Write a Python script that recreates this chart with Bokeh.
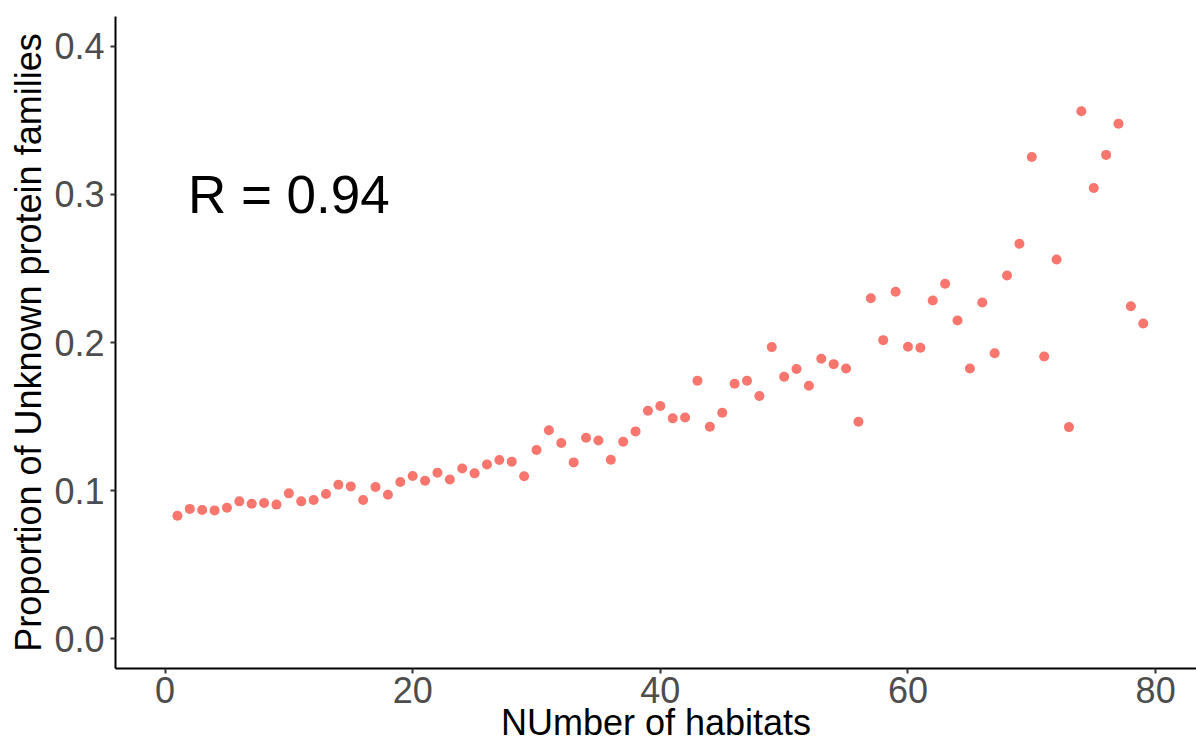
from bokeh.plotting import figure
from bokeh.models import Range1d, FixedTicker, NumeralTickFormatter, ColumnDataSource
from bokeh.core.properties import value
from bokeh.embed import file_html
from bokeh.resources import INLINE

# Data
habitats = list(range(1, 80))
proportion_unknown = [
    0.0831, 0.0877, 0.0870, 0.0867, 0.0885, 0.0928, 0.0912, 0.0917, 0.0906, 0.0982,
    0.0928, 0.0937, 0.0978, 0.1040, 0.1029, 0.0937, 0.1025, 0.0973, 0.1059, 0.1099,
    0.1067, 0.1121, 0.1076, 0.1150, 0.1117, 0.1177, 0.1207, 0.1196, 0.1097, 0.1274,
    0.1408, 0.1322, 0.1191, 0.1357, 0.1339, 0.1209, 0.1330, 0.1400, 0.1539, 0.1571,
    0.1488, 0.1494, 0.1742, 0.1432, 0.1526, 0.1722, 0.1742, 0.1639, 0.1969, 0.1769,
    0.1821, 0.1708, 0.1890, 0.1854, 0.1825, 0.1465, 0.2299, 0.2016, 0.2342, 0.1971,
    0.1964, 0.2283, 0.2396, 0.2148, 0.1825, 0.2270, 0.1928, 0.2452, 0.2666, 0.3252,
    0.1906, 0.2560, 0.1429, 0.3560, 0.3043, 0.3266, 0.3477, 0.2245, 0.2128,
]
x_ticks = [0, 20, 40, 60, 80]
y_ticks = [0.0, 0.1, 0.2, 0.3, 0.4]
r_label = ["R = 0.94"]
r_label_x = [10]
r_label_y = [0.3]

FONT = "Liberation Sans"

p = figure(
    width=1196, height=747,
    x_range=Range1d(-4.0, 83.3), y_range=Range1d(-0.02, 0.42),
    output_backend="svg", toolbar_location=None,
    min_border_left=115, min_border_right=0, min_border_top=16, min_border_bottom=79,
)
p.outline_line_color = None
p.xgrid.visible = False
p.ygrid.visible = False
p.background_fill_color = "white"
p.border_fill_color = "white"

src = ColumnDataSource(dict(x=habitats, y=proportion_unknown))
p.scatter("x", "y", source=src, size=10, fill_color="#F8766D", line_color=None)

p.text(x=r_label_x, y=r_label_y, text=r_label, text_font=value(FONT),
       text_font_size="53px", text_align="center", text_baseline="middle",
       text_color="black")

for ax in (p.xaxis[0], p.yaxis[0]):
    ax.axis_line_color = "black"
    ax.axis_line_width = 2
    ax.major_tick_line_color = "#333333"
    ax.major_tick_line_width = 2
    ax.major_tick_out = 5
    ax.major_tick_in = 0
    ax.minor_tick_line_color = None
    ax.major_label_text_font = FONT
    ax.major_label_text_font_size = "36px"
    ax.major_label_text_color = "#4D4D4D"
    ax.axis_label_text_font = FONT
    ax.axis_label_text_font_size = "36px"
    ax.axis_label_text_font_style = "normal"
    ax.axis_label_text_color = "black"

p.xaxis.ticker = FixedTicker(ticks=x_ticks)
p.yaxis.ticker = FixedTicker(ticks=y_ticks)
p.yaxis.formatter = NumeralTickFormatter(format="0.0")
p.xaxis.axis_label = "NUmber of habitats"
p.yaxis.axis_label = "Proportion of Unknown protein families"
p.xaxis.major_label_standoff = 3
p.yaxis.major_label_standoff = 6
p.xaxis.axis_label_standoff = -4
p.yaxis.axis_label_standoff = 2

open("out.html", "w").write(file_html(p, INLINE))
